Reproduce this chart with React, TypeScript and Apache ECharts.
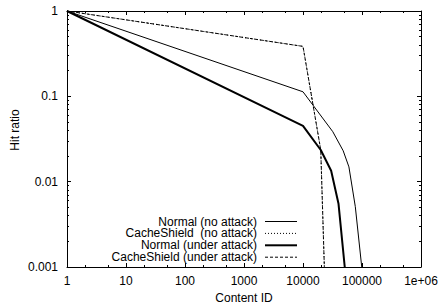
import React, { useEffect, useRef } from "react";
import * as echarts from "echarts";

// ---- data ----
const seriesNames = [
  "Normal (no attack)",
  "CacheShield  (no attack)",
  "Normal (under attack)",
  "CacheShield (under attack)",
];

const normalNoAttackX = [1, 10000, 32000, 48000, 60000, 77000, 99000];
const normalNoAttackY = [1, 0.113, 0.0385, 0.023, 0.0149, 0.0051, 0.001];

const shieldNoAttackX = [1, 10000, 20000, 23000];
const shieldNoAttackY = [1, 0.385, 0.0235, 0.001];

const normalAttackX = [1, 10000, 20000, 30000, 40000, 51000];
const normalAttackY = [1, 0.045, 0.0235, 0.0134, 0.0055, 0.001];

const shieldAttackX = [1, 10000, 20000, 23000];
const shieldAttackY = [1, 0.385, 0.0235, 0.001];

const xMajor = [1, 10, 100, 1000, 10000, 100000, 1000000];
const xTickLabels = ["1", "10", "100", "1000", "10000", "100000", "1e+06"];
const xMinor = [2, 5, 20, 50, 200, 500, 2000, 5000, 20000, 50000, 200000, 500000];

const yMajor = [0.001, 0.01, 0.1, 1];
const yTickLabels = ["0.001", "0.01", "0.1", "1"];
const yMinor = [
  0.002, 0.003, 0.004, 0.005, 0.006, 0.007, 0.008, 0.009,
  0.02, 0.03, 0.04, 0.05, 0.06, 0.07, 0.08, 0.09,
  0.2, 0.3, 0.4, 0.5, 0.6, 0.7, 0.8, 0.9,
];

const FONT = "'Liberation Sans', Arial, Helvetica, sans-serif";

const lineStyles = [
  { width: 1, type: "solid" as any, dash: null as number[] | null },
  { width: 1, type: [1, 2] as any, dash: [1, 2] },
  { width: 2, type: "solid" as any, dash: null },
  { width: 1, type: [3, 2] as any, dash: [3, 2] },
];

const zip = (xs: number[], ys: number[]) => xs.map((x, i) => [x, ys[i]]);

export default function App() {
  const ref = useRef<HTMLDivElement>(null);
  useEffect(() => {
    if (!ref.current) return;
    const chart = echarts.init(ref.current, null, { renderer: "svg" });

    const GL = 67, GT = 11, GW = 354, GH = 256;

    const xLabel = (v: number) => {
      const i = Math.round(Math.log10(v));
      return xTickLabels[i] ?? "";
    };
    const yLabel = (v: number) => {
      const i = Math.round(Math.log10(v)) + 3;
      return yTickLabels[i] ?? "";
    };

    const mkX = (position: string, major: boolean, labels: boolean, line: boolean, extra: any = {}) => ({
      type: "log",
      logBase: 10,
      min: 1,
      max: 1000000,
      position,
      axisLine: { show: line, onZero: false, lineStyle: { color: "#000", width: 1 } },
      axisTick: {
        show: true,
        inside: true,
        length: major ? 4 : 2,
        customValues: major ? xMajor : xMinor,
        lineStyle: { color: "#000", width: 1 },
      },
      axisLabel: labels
        ? { show: true, customValues: xMajor, formatter: xLabel, color: "#000", fontSize: 12, fontFamily: FONT, margin: 8 }
        : { show: false },
      splitLine: { show: false },
      minorTick: { show: false },
      ...extra,
    });
    const mkY = (position: string, major: boolean, labels: boolean, line: boolean) => ({
      type: "log",
      logBase: 10,
      min: 0.001,
      max: 1,
      position,
      axisLine: { show: line, onZero: false, lineStyle: { color: "#000", width: 1 } },
      axisTick: {
        show: true,
        inside: true,
        length: major ? 4 : 2,
        customValues: major ? yMajor : yMinor,
        lineStyle: { color: "#000", width: 1 },
      },
      axisLabel: labels
        ? { show: true, customValues: yMajor, formatter: yLabel, color: "#000", fontSize: 12, fontFamily: FONT, margin: 9 }
        : { show: false },
      splitLine: { show: false },
      minorTick: { show: false },
    });

    const seriesData = [
      zip(normalNoAttackX, normalNoAttackY),
      zip(shieldNoAttackX, shieldNoAttackY),
      zip(normalAttackX, normalAttackY),
      zip(shieldAttackX, shieldAttackY),
    ];

    const legendRight = 257;
    const legendTop = 221.5;
    const legendStep = 11.9;
    const legendGraphics: any[] = [];
    seriesNames.forEach((name, i) => {
      const y = legendTop + i * legendStep;
      legendGraphics.push({
        type: "text",
        x: legendRight,
        y,
        style: {
          text: name,
          align: "right",
          verticalAlign: "middle",
          fontSize: 12,
          lineHeight: 11,
          fontFamily: FONT,
          fill: "#000",
        },
      });
      legendGraphics.push({
        type: "line",
        shape: { x1: 265, y1: y, x2: 297, y2: y },
        style: {
          stroke: "#000",
          lineWidth: lineStyles[i].width,
          lineDash: lineStyles[i].dash || undefined,
        },
      });
    });

    chart.setOption({
      animation: false,
      backgroundColor: "#fff",
      grid: { left: GL, top: GT, width: GW, height: GH, outerBoundsMode: "none", containLabel: false },
      xAxis: [
        mkX("bottom", true, true, true, {
          name: "Content ID",
          nameLocation: "middle",
          nameGap: 16,
          nameTextStyle: { color: "#000", fontSize: 12, fontFamily: FONT },
        }),
        mkX("bottom", false, false, false),
        mkX("top", true, false, true),
        mkX("top", false, false, false),
      ],
      yAxis: [
        mkY("left", true, true, true),
        mkY("left", false, false, false),
        mkY("right", true, false, true),
        mkY("right", false, false, false),
      ],
      series: seriesData.map((d, i) => ({
        type: "line",
        name: seriesNames[i],
        xAxisIndex: 0,
        yAxisIndex: 0,
        data: d,
        showSymbol: false,
        symbol: "none",
        clip: true,
        lineStyle: { color: "#000", width: lineStyles[i].width, type: lineStyles[i].type },
        emphasis: { disabled: true },
      })),
      graphic: [
        {
          type: "text",
          x: 15,
          y: 130,
          rotation: Math.PI / 2,
          style: {
            text: "Hit ratio",
            align: "center",
            verticalAlign: "middle",
            fontSize: 12,
            fontFamily: FONT,
            fill: "#000",
          },
        },
        ...legendGraphics,
      ],
    });
    return () => chart.dispose();
  }, []);
  return <div ref={ref} style={{ width: 440, height: 305, position: "absolute", left: 0, top: 0 }} />;
}
